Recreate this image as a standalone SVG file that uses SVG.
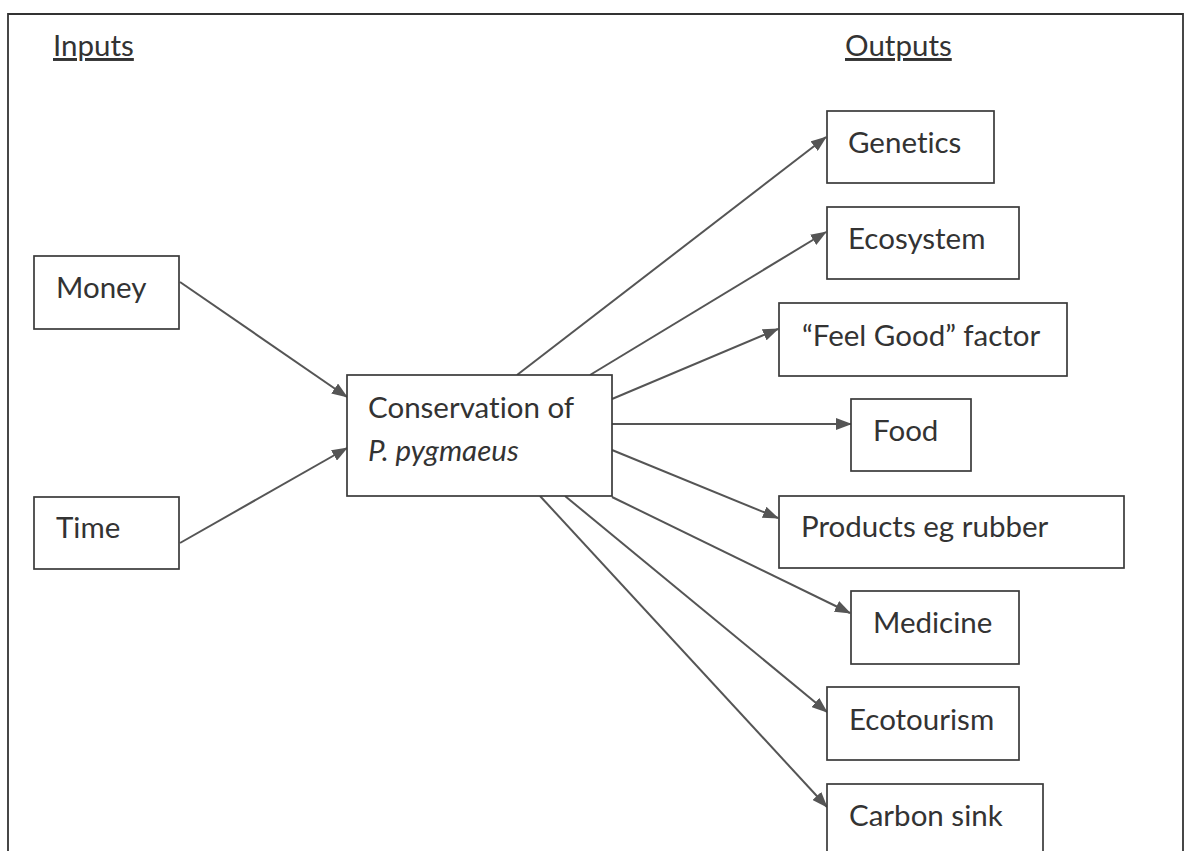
<svg xmlns="http://www.w3.org/2000/svg" width="1189" height="851" viewBox="0 0 1189 851">
<style>
  .box { fill: #ffffff; stroke: #3a3a3a; stroke-width: 1.7; }
  .lbl { font-family: Lato, "Open Sans", "Liberation Sans", sans-serif; font-size: 29.5px; fill: #333333; font-variant-ligatures: none; }
  .hdr { font-family: Lato, "Open Sans", "Liberation Sans", sans-serif; font-size: 29.5px; fill: #333333; text-decoration: underline; font-variant-ligatures: none; }
  .conn { stroke: #555555; stroke-width: 2; fill: none; marker-end: url(#arr); }
</style>
<defs>
  <marker id="arr" viewBox="0 0 16 12" refX="15" refY="6" markerWidth="16" markerHeight="12" markerUnits="userSpaceOnUse" orient="auto">
    <path d="M0,0 L16,6 L0,12 Z" fill="#555555"/>
  </marker>
</defs>
<rect x="0" y="0" width="1189" height="851" fill="#ffffff"/>
<path d="M8,860 L8,14 L1183,14 L1183,860" fill="none" stroke="#333333" stroke-width="1.8"/>

<g id="header-inputs"><text class="hdr" x="53" y="56">Inputs</text></g>
<g id="header-outputs"><text class="hdr" x="845" y="56">Outputs</text></g>

<g id="connectors">
  <line class="conn" x1="180" y1="282" x2="347" y2="397"/>
  <line class="conn" x1="180" y1="543" x2="347" y2="448"/>
  <line class="conn" x1="517" y1="375" x2="826" y2="137"/>
  <line class="conn" x1="590" y1="375" x2="826" y2="232"/>
  <line class="conn" x1="612" y1="399" x2="778" y2="329"/>
  <line class="conn" x1="612" y1="424" x2="851" y2="424"/>
  <line class="conn" x1="612" y1="450" x2="778" y2="518"/>
  <line class="conn" x1="612" y1="497" x2="850" y2="613"/>
  <line class="conn" x1="565" y1="496" x2="827" y2="712"/>
  <line class="conn" x1="540" y1="496" x2="827" y2="807"/>
</g>

<g id="node-money">
  <rect class="box" x="34" y="256" width="145" height="73"/>
  <text class="lbl" x="56" y="298">Money</text>
</g>
<g id="node-time">
  <rect class="box" x="34" y="497" width="145" height="72"/>
  <text class="lbl" x="56" y="538">Time</text>
</g>
<g id="node-conservation">
  <rect class="box" x="347" y="375" width="265" height="121"/>
  <text class="lbl" x="368" y="418">Conservation of</text>
  <text class="lbl" x="368" y="461" font-style="italic">P. pygmaeus</text>
</g>
<g id="node-genetics">
  <rect class="box" x="827" y="111" width="167" height="72"/>
  <text class="lbl" x="848" y="153">Genetics</text>
</g>
<g id="node-ecosystem">
  <rect class="box" x="827" y="207" width="192" height="72"/>
  <text class="lbl" x="848" y="249">Ecosystem</text>
</g>
<g id="node-feelgood">
  <rect class="box" x="779" y="303" width="288" height="73"/>
  <text class="lbl" x="802" y="346">“Feel Good” factor</text>
</g>
<g id="node-food">
  <rect class="box" x="851" y="399" width="120" height="72"/>
  <text class="lbl" x="873" y="441">Food</text>
</g>
<g id="node-products">
  <rect class="box" x="779" y="496" width="345" height="72"/>
  <text class="lbl" x="801" y="537">Products eg rubber</text>
</g>
<g id="node-medicine">
  <rect class="box" x="851" y="591" width="168" height="73"/>
  <text class="lbl" x="873" y="633">Medicine</text>
</g>
<g id="node-ecotourism">
  <rect class="box" x="827" y="687" width="192" height="73"/>
  <text class="lbl" x="849" y="730">Ecotourism</text>
</g>
<g id="node-carbonsink">
  <rect class="box" x="827" y="784" width="216" height="80"/>
  <text class="lbl" x="849" y="826">Carbon sink</text>
</g>
</svg>
